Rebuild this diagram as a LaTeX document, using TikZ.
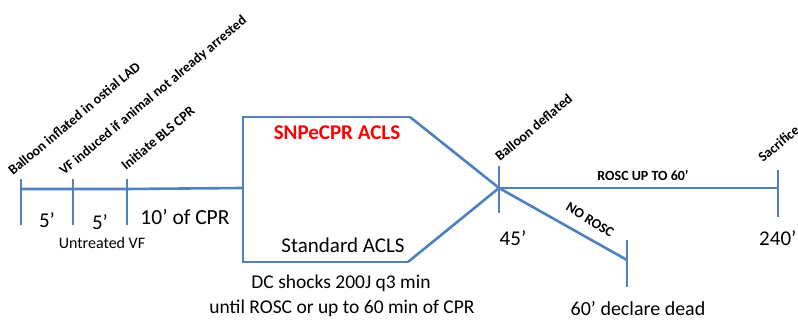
\documentclass[tikz,border=0pt]{standalone}
\usepackage{fontspec}
\setmainfont{Carlito}
\definecolor{lineblue}{RGB}{79,129,189}
\begin{document}
\begin{tikzpicture}[x=1pt,y=-1pt,
  tl/.style={draw=lineblue,line width=2.6pt},
  rot/.style={font=\bfseries\fontsize{14}{14}\selectfont,rotate=40,anchor=base west,inner sep=0pt},
  lbl/.style={font=\fontsize{21}{21}\selectfont,inner sep=0pt,anchor=center}]
\useasboundingbox (0,0) rectangle (798,320);
% coordinates
\coordinate (t1) at (21,189);
\coordinate (t2) at (73,189);
\coordinate (t3) at (127,189);
\coordinate (bl) at (243,188);
\coordinate (btl) at (243,117);
\coordinate (bbl) at (243,262);
\coordinate (btr) at (410,117);
\coordinate (bbr) at (408,262);
\coordinate (m) at (499,188);
\coordinate (s) at (778,188);
\coordinate (d) at (627,260);
% ticks
\draw[tl] (21,179) -- (21,225);
\draw[tl] (73,179) -- (73,225);
\draw[tl] (127,179) -- (127,225);
\draw[tl] (499,166) -- (499,213);
\draw[tl] (778,170) -- (778,217);
\draw[tl] (627,240) -- (627,287);
% lines
\draw[tl] (t1) -- (t2) -- (t3) -- (bl);
\draw[tl,line join=miter] (btr) -- (btl) -- (bbl) -- (bbr);
\draw[tl] (btr) -- (m) -- (bbr);
\draw[tl] (m) -- (s);
\draw[tl] (m) -- (d);
% rotated labels
\node[rot] (a1) at (13,176) {Balloon inflated in ostial LAD};
\node[rot] (a2) at (64,176) {VF induced if animal not already arrested};
\node[rot] (a3) at (126,171) {Initiate BLS CPR};
\node[rot] (a4) at (500,162) {Balloon deflated};
\node[rot] (a5) at (763,163) {Sacrifice};
% texts
\node[lbl] (f1) at (47,220) {5’};
\node[lbl] (f2) at (100,222) {5’};
\node[font=\fontsize{21.5}{21.5}\selectfont,inner sep=0pt] (c10) at (185,217) {10’ of CPR};
\node[font=\fontsize{16}{16}\selectfont,inner sep=0pt] (uv) at (102,243) {Untreated VF};
\node[font=\bfseries\fontsize{21}{21}\selectfont,text=red,inner sep=0pt] (sn) at (337,133) {SNPeCPR ACLS};
\node[font=\fontsize{21}{21}\selectfont,inner sep=0pt] (sa) at (343,245) {Standard ACLS};
\node[font=\fontsize{19.5}{19.5}\selectfont,inner sep=0pt] (dc1) at (341,283) {DC shocks 200J q3 min};
\node[font=\fontsize{19.5}{19.5}\selectfont,inner sep=0pt] (dc2) at (342,308) {until ROSC or up to 60 min of CPR};
\node[lbl] (t45) at (513,238) {45’};
\node[lbl,anchor=west] (t240) at (759,238) {240’};
\node[font=\bfseries\fontsize{14}{14}\selectfont,inner sep=0pt] (ro) at (643,175) {ROSC UP TO 60’};
\node[font=\bfseries\fontsize{14}{14}\selectfont,inner sep=0pt,rotate=-32] (nr) at (590,220) {NO ROSC};
\node[font=\fontsize{20}{20}\selectfont,inner sep=0pt] (dd) at (638,309) {60’ declare dead};
\end{tikzpicture}
\end{document}
